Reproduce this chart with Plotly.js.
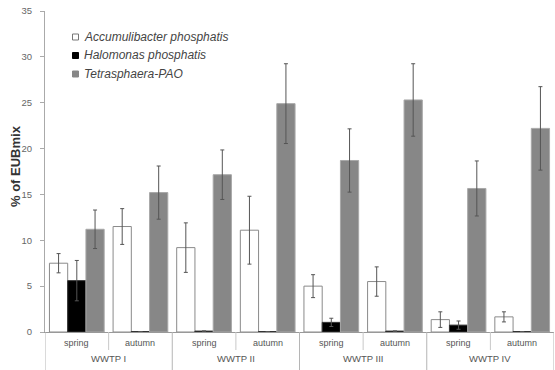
<!DOCTYPE html>
<html>
<head>
<meta charset="utf-8">
<script src="https://cdn.plot.ly/plotly-3.0.1.min.js"></script>
<style>html,body{margin:0;padding:0;background:#fff;}#chart{width:555px;height:370px;}</style>
</head>
<body>
<div id="chart"></div>
<script>
const plants = ["WWTP I","WWTP I","WWTP II","WWTP II","WWTP III","WWTP III","WWTP IV","WWTP IV"];
const seasons = ["spring","autumn","spring","autumn","spring","autumn","spring","autumn"];
const plantLabels = ["WWTP I","WWTP II","WWTP III","WWTP IV"];
const accumulibacter = [7.5, 11.5, 9.2, 11.1, 5.0, 5.5, 1.35, 1.65];
const accumulibacterErr = [1.05, 1.95, 2.7, 3.7, 1.25, 1.6, 0.85, 0.55];
const halomonas = [5.6, 0.05, 0.1, 0.05, 1.05, 0.1, 0.75, 0.05];
const halomonasErr = [2.2, 0, 0, 0, 0.45, 0, 0.45, 0];
const tetrasphaera = [11.2, 15.2, 17.15, 24.9, 18.7, 25.3, 15.65, 22.2];
const tetrasphaeraErr = [2.1, 2.9, 2.7, 4.35, 3.45, 3.95, 3.0, 4.55];
const seriesNames = ["Accumulibacter phosphatis","Halomonas phosphatis","Tetrasphaera-PAO"];
const seriesColors = ["#ffffff","#000000","#878787"];
const seriesLines = ["#8a8a8a","#333333","#a8a8a8"];
const yTicks = [0,5,10,15,20,25,30,35];

// geometry helpers (pixels -> paper)
const W = 555, H = 370, mL = 45, mR = 1, mT = 11, mB = 38;
const plotH = H - mT - mB, plotW = W - mL - mR;
const py = p => (H - mB - p) / plotH;
const px = p => (p - mL) / plotW;

const cats = plants.map((p,i) => p + " | " + seasons[i]);
function err(a){return {type:'data',array:a,visible:true,color:'#555',thickness:1,width:2};}
const series = [accumulibacter, halomonas, tetrasphaera];
const errs = [accumulibacterErr, halomonasErr, tetrasphaeraErr];
const traces = series.map((s,k) => ({
  type:'bar', x:cats, y:s, name:seriesNames[k], error_y:err(errs[k]),
  marker:{color:seriesColors[k], line:{color:seriesLines[k], width:1}}
}));

const shapes = [];
const annotations = [];
// category dividers below the axis
for (let b = -0.5; b <= cats.length - 0.5; b += 1) {
  const isGroup = Math.round(b + 0.5) % 2 === 0;
  shapes.push({type:'line', xref:'x', yref:'paper', x0:b, x1:b, y0:0, y1:py(isGroup ? 370 : 350),
    line:{color:isGroup ? '#b5b5b5' : '#c8c8c8', width:1}});
}
seasons.forEach((s,i) => annotations.push({xref:'x', yref:'paper', x:i, y:py(343), text:s,
  showarrow:false, yanchor:'middle', font:{size:9, color:'#555'}}));
plantLabels.forEach((p,g) => annotations.push({xref:'x', yref:'paper', x:2*g + 0.5, y:py(359), text:p,
  showarrow:false, yanchor:'middle', font:{size:9.5, color:'#555'}}));
// legend
const legY = [37, 55.5, 74];
seriesNames.forEach((n,k) => {
  shapes.push({type:'rect', xref:'paper', yref:'paper', x0:px(72.5), x1:px(78.5), y0:py(legY[k]+3), y1:py(legY[k]-3),
    fillcolor:seriesColors[k], line:{color:k===0 ? '#777' : seriesColors[k], width:1}});
  annotations.push({xref:'paper', yref:'paper', x:px(82), y:py(legY[k]), text:'<i>' + n + '</i>',
    showarrow:false, xanchor:'left', yanchor:'middle', font:{size:12, color:'#444'}});
});
// y axis title
annotations.push({xref:'paper', yref:'paper', x:px(15), y:py(166), text:'<b>% of EUBmix</b>', textangle:-90,
  showarrow:false, xanchor:'center', yanchor:'middle', font:{size:13, color:'#333'}});

const layout = {
  width:W, height:H,
  margin:{l:mL, r:mR, t:mT, b:mB},
  paper_bgcolor:'#fff', plot_bgcolor:'#fff',
  barmode:'group', bargap:0.14, bargroupgap:0,
  font:{family:'Arial, Liberation Sans, sans-serif', size:9, color:'#555'},
  showlegend:false,
  shapes:shapes, annotations:annotations,
  xaxis:{type:'category', range:[-0.5, cats.length - 0.5], showline:true, linecolor:'#999', linewidth:1,
    showticklabels:false, ticks:'', showgrid:false, automargin:false, fixedrange:true},
  yaxis:{range:[0,35], tickvals:yTicks, ticktext:yTicks.map(String), showline:true, linecolor:'#aaa', linewidth:1,
    ticks:'outside', ticklen:4, tickcolor:'#aaa', showgrid:false, zeroline:false, ticklabelstandoff:6,
    tickfont:{size:9.5, color:'#666'}, automargin:false}
};
Plotly.newPlot('chart', traces, layout, {displayModeBar:false, staticPlot:true});
</script>
</body>
</html>
